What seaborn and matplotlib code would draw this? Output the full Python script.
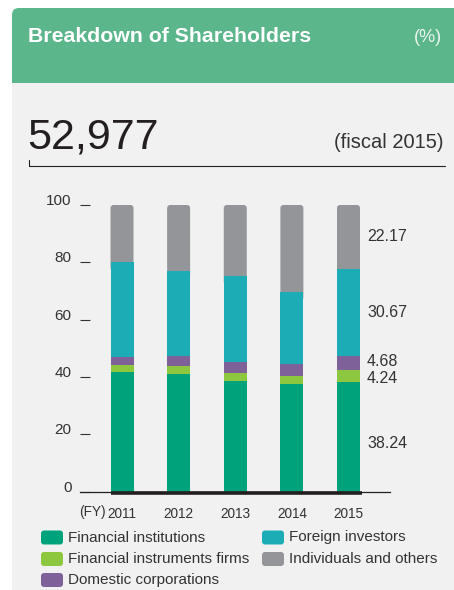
import numpy as np
import pandas as pd
import matplotlib
matplotlib.use("Agg")
import matplotlib.pyplot as plt
import seaborn as sns
from matplotlib.patches import FancyBboxPatch, Rectangle
from matplotlib import font_manager

# ---------------- data ----------------
years = ["2011", "2012", "2013", "2014", "2015"]
financial_institutions = [41.7, 41.0, 38.6, 37.6, 38.24]
financial_instruments_firms = [2.5, 2.8, 2.8, 2.7, 4.24]
domestic_corporations = [2.8, 3.5, 3.8, 4.2, 4.68]
foreign_investors = [33.1, 29.7, 30.0, 25.2, 30.67]
individuals_and_others = [19.9, 23.0, 24.8, 30.3, 22.17]
series_names = ["Financial institutions", "Financial instruments firms",
                "Domestic corporations", "Foreign investors",
                "Individuals and others"]
y_ticks = [0, 20, 40, 60, 80, 100]
headline_value = "52,977"
headline_note = "(fiscal 2015)"

colors = ["#00A27B", "#8DC63F", "#7F619A", "#1CACB6", "#939598"]
HEADER = "#5CB68B"
PANEL = "#F1F1F1"
DARK = "#231F20"
TXT = "#333333"

# ---------------- fonts ----------------
sns.set_style("white")
avail = {f.name for f in font_manager.fontManager.ttflist}
BASE = "Liberation Sans" if "Liberation Sans" in avail else "DejaVu Sans"
plt.rcParams["font.family"] = [BASE, "DejaVu Sans"]

W, H = 454, 590
fig = plt.figure(figsize=(W / 100, H / 100), dpi=100)
fig.patch.set_facecolor("white")

# background / decoration axes in pixel coordinates
bg = fig.add_axes([0, 0, 1, 1])
bg.set_xlim(0, W)
bg.set_ylim(H, 0)
bg.axis("off")
bg.add_patch(FancyBboxPatch((12, 8), W + 20, 90, boxstyle="round,pad=0,rounding_size=7",
                            facecolor=HEADER, edgecolor="none"))
bg.add_patch(Rectangle((12, 83), W, H, facecolor=PANEL, edgecolor="none"))
bg.text(28, 42, "Breakdown of Shareholders", fontsize=15.3, fontweight="bold",
        color="white", va="baseline", ha="left")
bg.text(442, 42, "(%)", fontsize=13, color="#EAF5EF", va="baseline", ha="right")
bg.text(27, 149, headline_value, fontsize=31, color=DARK, va="baseline", ha="left")
bg.text(443, 148, headline_note, fontsize=14.5, color=TXT, va="baseline", ha="right")
bg.plot([29, 445], [166, 166], color=DARK, lw=0.8)
bg.plot([29, 29], [160, 166], color=DARK, lw=0.8)
bg.text(79, 512, "(FY)", fontsize=9.8, color=TXT, va="center", ha="left")

# legend (manual, two columns)
leg_pos = [(41, 537.5), (41, 559), (41, 580), (262, 537.5), (262, 559)]
for i, (lx, ly) in enumerate(leg_pos):
    bg.add_patch(FancyBboxPatch((lx, ly - 7), 22, 14, boxstyle="round,pad=0,rounding_size=3",
                                facecolor=colors[i], edgecolor="none"))
    bg.text(lx + 27, ly, series_names[i], fontsize=11, color=TXT, va="center", ha="left")

# ---------------- main chart ----------------
ax_left, ax_right = 80, 390
y0_px, y100_px = 491.7, 205
ax = fig.add_axes([ax_left / W, (H - y0_px) / H, (ax_right - ax_left) / W, (y0_px - y100_px) / H])
ax.set_facecolor("none")

df = pd.DataFrame({
    "year": years,
    "s0": financial_institutions,
    "s1": financial_instruments_firms,
    "s2": domestic_corporations,
    "s3": foreign_investors,
    "s4": individuals_and_others,
})
cols = ["s0", "s1", "s2", "s3", "s4"]
cum = df[cols].cumsum(axis=1)
bar_w = 0.406
x_lo, x_hi = -0.742, 4.733
px_per_x = (ax_right - ax_left) / (x_hi - x_lo)
xr = 3.0 / px_per_x
asp = (100 / (y0_px - y100_px)) * px_per_x

bottoms = np.zeros(len(years))
for k in range(5):
    n_before = len(ax.patches)
    sns.barplot(x=df["year"], y=df[cols[k]], color=colors[k], saturation=1,
                width=bar_w, linewidth=0, ax=ax, order=years)
    new = ax.patches[n_before:]
    for j, p in enumerate(new):
        p.set_y(bottoms[j])
        p.set_zorder(2)
        if k == 4:
            # outermost layer: rounded top corners, extended down behind the layer below
            x, w, h = p.get_x(), p.get_width(), p.get_height()
            p.set_visible(False)
            ax.add_patch(FancyBboxPatch((x, bottoms[j] - 3), w, h + 3,
                                        boxstyle=f"round,pad=0,rounding_size={xr}",
                                        mutation_aspect=asp, facecolor=colors[k],
                                        edgecolor="none", zorder=1))
    bottoms = bottoms + df[cols[k]].values

ax.set_xlim(x_lo, x_hi)
ax.set_ylim(0, 100)
ax.set_xlabel("")
ax.set_ylabel("")
for s in ["top", "right", "left"]:
    ax.spines[s].set_visible(False)
ax.spines["bottom"].set_color(DARK)
ax.spines["bottom"].set_linewidth(0.9)

ax.set_yticks(y_ticks, labels=[str(t) for t in y_ticks], va="baseline")
ax.tick_params(axis="y", left=True, direction="in", length=7, width=0.8, color=TXT,
               pad=6, labelsize=11, labelcolor=TXT)
ax.tick_params(axis="x", bottom=False, length=0, pad=11, labelsize=9.8, labelcolor=TXT)

# thick base line under bars
ax.hlines(-0.3, -bar_w / 2, 4.24, color=DARK, lw=2.6, clip_on=False, zorder=5)

# value labels for the last year
last = [df[c].iloc[-1] for c in cols]
cl = cum.iloc[-1].values
centers = [cl[i] - last[i] / 2 for i in range(5)]
offsets = [-2.2, -1.0, 0.7, 0.0, 0.0]
x_lab = 4.327
for i in range(5):
    ax.text(x_lab, centers[i] + offsets[i], f"{last[i]:.2f}", fontsize=11.5, color=TXT,
            va="center", ha="left")

fig.savefig("out.png", dpi=100, facecolor="white")
